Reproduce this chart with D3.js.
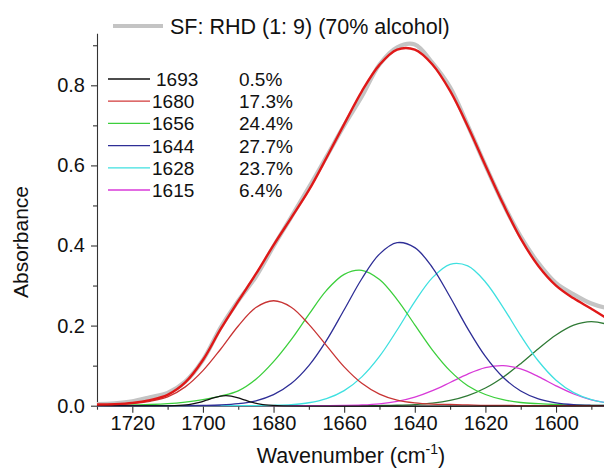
<html>
<head>
<meta charset="utf-8">
<script src="https://cdn.jsdelivr.net/npm/d3@7"></script>
<style>
  body { margin: 0; background: #fff; }
  text { font-family: "Liberation Sans", Arial, sans-serif; fill: #111; }
</style>
</head>
<body>
<script>
// wavenumber grid (cm-1), shared by most series
var wn = [1730, 1725, 1720, 1715, 1710, 1705, 1700, 1695, 1690, 1685, 1680,
          1675, 1670, 1665, 1660, 1655, 1650, 1645, 1640, 1635, 1630,
          1625, 1620, 1615, 1610, 1605, 1600, 1595, 1590, 1585, 1580];

// measured spectrum (grey) and fitted sum (red)
var measured = [.004, .006, .011, .021, .032, .060, .114, .195, .262, .322, .398,
                .471, .545, .622, .700, .772, .852, .895, .902, .856, .795,
                .700, .600, .505, .422, .356, .306, .278, .255, .243, .240];
var fitSum = [.003, .004, .007, .014, .027, .058, .114, .191, .261, .329, .401,
              .469, .538, .619, .703, .785, .851, .889, .889, .852, .786,
              .698, .600, .504, .417, .349, .300, .268, .242, .214, .181];

// fitted bands
var band1680 = [.002, .003, .005, .011, .022, .047, .0875, .141, .199, .245, .262,
                .246, .203, .150, .097, .056, .029, .014, .007, .004, .003,
                .002, .001, .001, 0, 0, 0, 0, 0, 0, 0];
var band1656 = [.001, .001, .002, .003, .005, .009, .015, .024, .037, .066, .110,
                .165, .228, .288, .328, .338, .315, .265, .202, .139, .087,
                .050, .028, .015, .008, .005, .003, .002, .001, .001, 0];
var band1644 = [0, 0, 0, 0, 0, 0, .0006, .0018, .005, .0123, .0275,
                .0552, .100, .163, .2395, .317, .3785, .407, .3946, .345, .2714,
                .1925, .123, .071, .0368, .0172, .0073, .0028, .001, .0003, 0];
var band1628 = [0, 0, 0, 0, 0, 0, 0, 0, .0001, .0003, .001,
                .0028, .0074, .0177, .0377, .072, .123, .189, .2597, .3197, .353,
                .349, .309, .2457, .175, .1116, .0638, .0327, .015, .0062, .0023];
var band1615 = [0, 0, 0, 0, 0, 0, 0, 0, 0, 0, 0,
                0, 0, .0002, .0006, .0018, .0047, .0107, .0214, .0376, .058,
                .079, .0948, .100, .0918, .0726, .0496, .0292, .0148, .0065, .0025];
var band1590 = [0, 0, 0, 0, 0, 0, 0, 0, 0, 0, 0,
                0, 0, 0, 0, .0001, .0004, .0011, .0028, .0063, .0132,
                .0252, .0442, .0712, .105, .1423, .1766, .2011, .21, .2011, .1766];

// the narrow 1693 band gets its own finer grid
var wn1693 = [1730, 1708, 1704, 1701, 1699, 1697, 1695, 1693.5, 1692, 1690, 1688, 1686, 1683, 1679, 1580];
var band1693 = [0, .0004, .0028, .0081, .0137, .0196, .0239, .025, .0239, .0196, .0137, .0081, .0028, .0004, 0];

// legend
var legendBands = ["1693", "1680", "1656", "1644", "1628", "1615"];
var legendShares = ["0.5%", "17.3%", "24.4%", "27.7%", "23.7%", "6.4%"];
var legendColors = ["#111111", "#d23a3a", "#3ccf3c", "#2e2e96", "#3fe0e0", "#d83ad8"];

var xTicks = [1720, 1700, 1680, 1660, 1640, 1620, 1600];
var xMinor = [1730, 1710, 1690, 1670, 1650, 1630, 1610, 1590];
var yTicks = [0, 0.2, 0.4, 0.6, 0.8];
var yMinor = [0.1, 0.3, 0.5, 0.7, 0.9];

var W = 604, H = 470;
var x0 = 97, y0 = 405.7;

var svg = d3.select("body").append("svg")
    .attr("width", W).attr("height", H);

var x = d3.scaleLinear().domain([1730, 1580]).range([x0, x0 + 150 * 3.531]);
var y = d3.scaleLinear().domain([0, 0.93]).range([y0, y0 - 0.93 * 400.5]);

svg.append("clipPath").attr("id", "plot")
  .append("rect").attr("x", x0).attr("y", 0).attr("width", W - x0).attr("height", y0 + 1);

/* axes */
var axX = svg.append("g").attr("transform", "translate(0," + y0 + ")")
    .call(d3.axisBottom(x).tickValues(xTicks).tickFormat(d3.format("d"))
          .tickSize(7).tickSizeOuter(0).tickPadding(3));
svg.append("g").attr("transform", "translate(0," + y0 + ")")
    .call(d3.axisBottom(x).tickValues(xMinor).tickFormat("").tickSize(4).tickSizeOuter(0))
    .select(".domain").remove();
var axY = svg.append("g").attr("transform", "translate(" + x0 + ",0)")
    .call(d3.axisLeft(y).tickValues(yTicks).tickFormat(d3.format(".1f"))
          .tickSize(6).tickSizeOuter(0).tickPadding(6));
svg.append("g").attr("transform", "translate(" + x0 + ",0)")
    .call(d3.axisLeft(y).tickValues(yMinor).tickFormat("").tickSize(4).tickSizeOuter(0))
    .select(".domain").remove();

svg.selectAll(".domain, .tick line").attr("stroke", "#333").attr("stroke-width", 1.1);
axX.selectAll("text").attr("font-size", 20).attr("font-family", "Liberation Sans, Arial").attr("fill", "#111");
axY.selectAll("text").attr("font-size", 20).attr("font-family", "Liberation Sans, Arial").attr("fill", "#111");

/* axis titles */
svg.append("text")
    .attr("transform", "translate(28,242) rotate(-90)")
    .attr("text-anchor", "middle").attr("font-size", 21)
    .text("Absorbance");

var xt = svg.append("text").attr("x", 351).attr("y", 463)
    .attr("text-anchor", "middle").attr("font-size", 21.5);
xt.append("tspan").text("Wavenumber (cm");
xt.append("tspan").attr("dy", -9).attr("font-size", 14).text("-1");
xt.append("tspan").attr("dy", 9).text(")");

/* curves */
var plot = svg.append("g").attr("clip-path", "url(#plot)");

var line = d3.line()
    .x(function(d, i) { return x(wn[i]); })
    .y(function(d) { return y(d); })
    .curve(d3.curveCatmullRom);

plot.append("path").attr("d", line(measured))
    .attr("fill", "none").attr("stroke", "#c4c4c4").attr("stroke-width", 4.2);

var bands = [
  [band1590, "#2f7a35"],
  [band1615, "#d83ad8"],
  [band1628, "#3fe0e0"],
  [band1656, "#3ccf3c"],
  [band1644, "#2e2e96"],
  [band1680, "#c83434"]
];
bands.forEach(function(b) {
  plot.append("path").attr("d", line(b[0]))
      .attr("fill", "none").attr("stroke", b[1]).attr("stroke-width", 1.3);
});

var line1693 = d3.line()
    .x(function(d, i) { return x(wn1693[i]); })
    .y(function(d) { return y(d); })
    .curve(d3.curveCatmullRom);
plot.append("path").attr("d", line1693(band1693))
    .attr("fill", "none").attr("stroke", "#111").attr("stroke-width", 1.3);

plot.append("path").attr("d", line(fitSum))
    .attr("fill", "none").attr("stroke", "#e01818").attr("stroke-width", 2.4);

/* legends */
svg.append("line").attr("x1", 113).attr("x2", 163).attr("y1", 26).attr("y2", 26)
    .attr("stroke", "#c4c4c4").attr("stroke-width", 4);
svg.append("text").attr("x", 170).attr("y", 34).attr("font-size", 21.5)
    .text("SF: RHD (1: 9) (70% alcohol)");

var leg = svg.append("g");
legendBands.forEach(function(name, i) {
  var ly = 79 + i * 22.2;
  leg.append("line").attr("x1", 108).attr("x2", 150).attr("y1", ly).attr("y2", ly)
      .attr("stroke", legendColors[i]).attr("stroke-width", 1.3);
  leg.append("text").attr("x", i === 0 ? 156 : 152).attr("y", ly + 7).attr("font-size", 19)
      .text(name);
  leg.append("text").attr("x", 239).attr("y", ly + 7).attr("font-size", 19)
      .text(legendShares[i]);
});
</script>
</body>
</html>
